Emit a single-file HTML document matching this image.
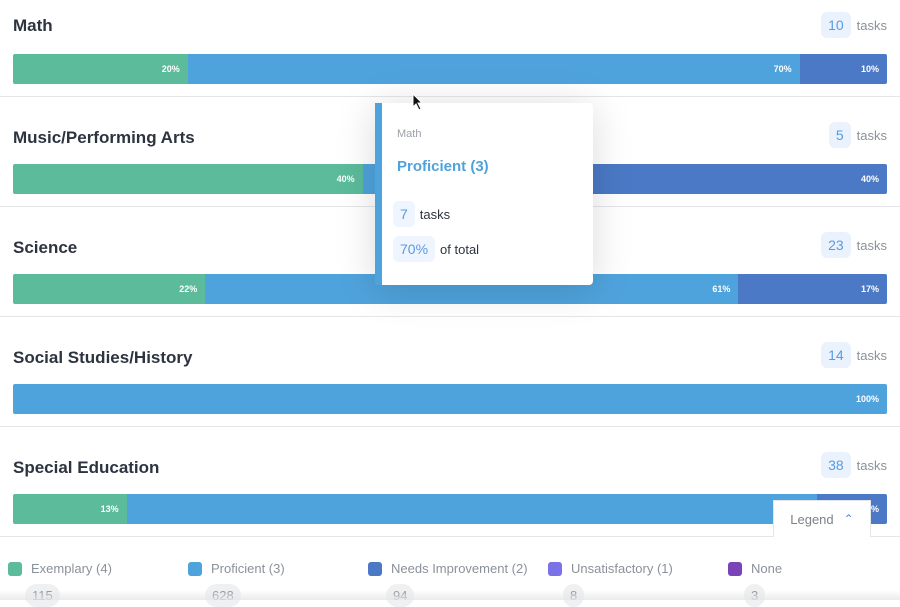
<!DOCTYPE html><html><head><style>
body{margin:0;width:900px;height:600px;overflow:hidden;background:#fff;font-family:"Liberation Sans",sans-serif;position:relative}
.row{position:absolute;left:0;width:900px;height:110px;border-bottom:1px solid #e4e6ea}
.t{position:absolute;left:13px;top:16px;font-size:17px;font-weight:bold;color:#2d3440}
.cnt{position:absolute;right:13px;top:12px;font-size:13px;color:#8b919a;display:flex;align-items:center}
.cnt b{font-weight:normal;background:#eaf3fd;color:#5a9be0;border-radius:6px;padding:5px 7px;margin-right:6px;font-size:14px}
.bar{position:absolute;left:13px;top:54px;width:874px;height:30px;display:flex;border-radius:2px;overflow:hidden}
.bar div{height:100%;display:flex;align-items:center;justify-content:flex-end;color:#fff;font-size:9px;font-weight:bold;padding-right:8px;box-sizing:border-box}
.g{background:#5bbb9b}.b{background:#4fa3dc}.d{background:#4b79c5}
.tip{position:absolute;left:375px;top:103px;width:218px;height:182px;background:#fff;border-radius:0 4px 4px 0;border-left:7px solid #4fa3dc;box-sizing:border-box;box-shadow:0 4px 40px rgba(0,0,0,.15)}
.pill{display:inline-block;background:#eef5fe;color:#5a9be0;border-radius:6px;padding:5px 7px;font-size:14px;margin-right:5px}
.leg{position:absolute;top:561px;font-size:13px;color:#8b919a;display:flex;align-items:center}
.leg i{display:inline-block;width:14px;height:14px;border-radius:3px;margin-right:9px}
.num{position:absolute;top:584px;font-size:13px;color:#8b919a;background:#eef0f2;border-radius:12px;padding:4px 7px}
</style></head><body>
<div class="row" style="top:-14px;height:110px"><div class="t" style="top:30px">Math</div><div class="cnt" style="top:26px"><b>10</b>tasks</div>
<div class="bar" style="top:68px"><div class="g" style="width:20%">20%</div><div class="b" style="width:70%">70%</div><div class="d" style="width:10%">10%</div></div></div>
<div class="row" style="top:96px"><div class="t" style="top:32px">Music/Performing Arts</div><div class="cnt" style="top:26px"><b>5</b>tasks</div>
<div class="bar" style="top:68px"><div class="g" style="width:40%">40%</div><div class="b" style="width:20%"></div><div class="d" style="width:40%">40%</div></div></div>
<div class="row" style="top:206px"><div class="t" style="top:32px">Science</div><div class="cnt" style="top:26px"><b>23</b>tasks</div>
<div class="bar" style="top:68px"><div class="g" style="width:22%">22%</div><div class="b" style="width:61%">61%</div><div class="d" style="width:17%">17%</div></div></div>
<div class="row" style="top:316px"><div class="t" style="top:32px">Social Studies/History</div><div class="cnt" style="top:26px"><b>14</b>tasks</div>
<div class="bar" style="top:68px"><div class="b" style="width:100%">100%</div></div></div>
<div class="row" style="top:426px"><div class="t" style="top:32px">Special Education</div><div class="cnt" style="top:26px"><b>38</b>tasks</div>
<div class="bar" style="top:68px"><div class="g" style="width:13%">13%</div><div class="b" style="width:79%">79%</div><div class="d" style="width:8%">8%</div></div></div>
<div class="tip">
<div style="position:absolute;left:15px;top:25px;font-size:11px;color:#9a9fa6">Math</div>
<div style="position:absolute;left:15px;top:55px;font-size:15px;font-weight:bold;color:#4fa3dc">Proficient (3)</div>
<div style="position:absolute;left:11px;top:98px;font-size:13px;color:#2d3440"><span class="pill">7</span>tasks</div>
<div style="position:absolute;left:11px;top:133px;font-size:13px;color:#2d3440"><span class="pill">70%</span>of total</div>
</div>
<svg style="position:absolute;left:412px;top:93px" width="12" height="18"><path d="M1 1 L1 14 L4 11 L7 17 L9 16 L6 10 L10 10 Z" fill="#111" stroke="#fff" stroke-width="1"/></svg>
<div style="position:absolute;left:773px;top:500px;width:98px;height:37px;background:#fff;border:1px solid #e4e6ea;border-bottom:none;box-sizing:border-box;font-size:13px;color:#7b818a;display:flex;align-items:center;justify-content:center">Legend <span style="color:#4a8fe0;margin-left:10px;font-size:12px">&#8963;</span></div>
<div class="leg" style="left:8px"><i class="g"></i>Exemplary (4)</div>
<div class="leg" style="left:188px"><i class="b"></i>Proficient (3)</div>
<div class="leg" style="left:368px"><i class="d"></i>Needs Improvement (2)</div>
<div class="leg" style="left:548px"><i style="background:#7b72e8"></i>Unsatisfactory (1)</div>
<div class="leg" style="left:728px"><i style="background:#7a44b8"></i>None</div>
<div class="num" style="left:25px">115</div><div class="num" style="left:205px">628</div><div class="num" style="left:386px">94</div><div class="num" style="left:563px">8</div><div class="num" style="left:744px">3</div>
<div style="position:absolute;left:0;top:590px;width:900px;height:10px;background:linear-gradient(rgba(255,255,255,0),rgba(230,230,230,.8))"></div>
</body></html>
